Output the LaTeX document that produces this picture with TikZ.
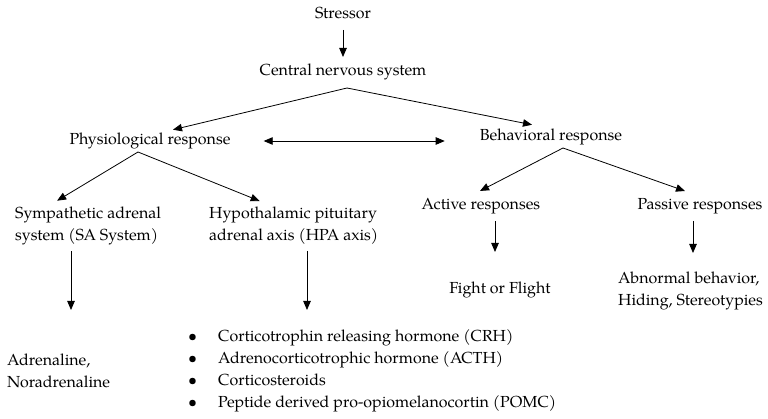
\documentclass[tikz,border=0pt]{standalone}
\usepackage{fontspec}
\setmainfont{TeX Gyre Pagella}
\usetikzlibrary{arrows.meta,calc}
\begin{document}
\begin{tikzpicture}[x=1pt,y=-1pt,
  every node/.style={inner sep=0pt, font=\fontsize{16}{22}\selectfont},
  tip/.style={Triangle[length=9pt,width=7.5pt]},
  arr/.style={-{Triangle[length=9pt,width=7.5pt]}, line width=0.8pt},
  dbl/.style={{Triangle[length=9pt,width=7.5pt]}-{Triangle[length=9pt,width=7.5pt]}, line width=0.8pt}]
\useasboundingbox (0,0) rectangle (768,419);
\node (stressor) at (343,13) {Stressor};
\node (cns) at (343,72) {Central nervous system};
\node (phys) at (150,141) {Physiological response};
\node (behav) at (551,137) {Behavioral response};
\node[align=left, anchor=west] (sa) at (15,226) {Sympathetic adrenal\\system (SA System)};
\node[align=left, anchor=west] (hpa) at (209,226) {Hypothalamic pituitary\\adrenal axis (HPA axis)};
\node (active) at (481,206) {Active responses};
\node (passive) at (700,206) {Passive responses};
\node (fight) at (500,290) {Fight or Flight};
\node[align=left, anchor=west] (abn) at (618,291) {Abnormal behavior,\\Hiding, Stereotypies};
\node[align=left, anchor=west] (adr) at (7,371) {Adrenaline,\\Noradrenaline};
\node[align=left, anchor=west] (list) at (188,371) {%
\makebox[30pt][l]{\textbullet}Corticotrophin releasing hormone (CRH)\\
\makebox[30pt][l]{\textbullet}Adrenocorticotrophic hormone (ACTH)\\
\makebox[30pt][l]{\textbullet}Corticosteroids\\
\makebox[30pt][l]{\textbullet}Peptide derived pro-opiomelanocortin (POMC)};
% connectors
\coordinate (cnsapex) at (347,88);
\coordinate (physapex) at (138,152);
\coordinate (behavapex) at (563,148);
\draw[arr] (stressor.south |- 0,30) -- (cns.north |- 0,57);
\draw[arr] (cnsapex) -- ($(phys.north)+(23,-3)$);
\draw[arr] (cnsapex) -- ($(behav.north)+(-19,-4)$);
\draw[dbl] ($(phys.east)+(33,0)$) -- ($(behav.west)+(-35,4)$);
\draw[arr] (physapex) -- ($(sa.north)+(-31,-6)$);
\draw[arr] (physapex) -- ($(hpa.north)+(-34,-6)$);
\draw[arr] (behavapex) -- ($(active.north)+(-1,-7)$);
\draw[arr] (behavapex) -- ($(passive.north)+(-15,-7)$);
\draw[arr] (sa.south -| 71,0) ++(0,6) -- (71,310);
\draw[arr] (hpa.south -| 307,0) ++(0,6) -- (307,310);
\draw[arr] (active.south -| 495,0) ++(0,7) -- (495,252);
\draw[arr] (passive.south -| 693,0) ++(0,7) -- (693,253);
\end{tikzpicture}
\end{document}
